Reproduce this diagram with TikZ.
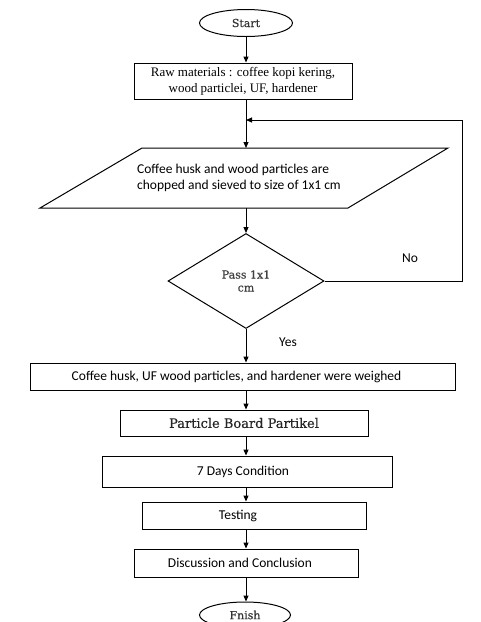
\documentclass[tikz,border=0pt]{standalone}
\usepackage{fontspec}
\setmainfont{Liberation Serif}
\newfontfamily\calib{Carlito}
\newfontfamily\dvs[FakeBold=0.4]{DejaVu Serif}
\usetikzlibrary{shapes.geometric,arrows.meta}
\begin{document}
\begin{tikzpicture}[x=1pt,y=-1pt,
  line width=1pt,
  arr/.style={-{Triangle[length=6pt,width=5pt]}},
  boxA/.style={draw,rectangle,inner sep=0pt,align=center},
  term/.style={draw,ellipse,inner sep=0pt,text=black!80,font=\dvs\fontsize{11}{13}\selectfont},
  sans/.style={font=\calib\fontsize{13.5}{16}\selectfont},
  serif/.style={font=\fontsize{13}{16}\selectfont}]
\useasboundingbox (0,0) rectangle (481,622);
\fill[white] (0,0) rectangle (481,622);
% nodes
\node[term,minimum width=93pt,minimum height=27pt] (start) at (246,23) {Start};
\node[boxA,serif,minimum width=218pt,minimum height=36pt] (raw) at (243,81)
  {Raw materials : coffee kopi kering,\\wood particlei, UF, hardener};
\draw (142,148) -- (448,148) -- (348,208) -- (40,208) -- cycle;
\node[sans,align=left,inner sep=0pt,minimum height=60pt] (para) at (239,178)
  {Coffee husk and wood particles are\\chopped and sieved to size of 1x1 cm};
\node[draw,diamond,inner sep=0pt,minimum width=156pt,minimum height=95pt,
  text=black!75,font=\dvs\fontsize{11}{13}\selectfont,align=center] (dia) at (246,281)
  {Pass 1x1\\cm};
\node[boxA,sans,minimum width=425pt,minimum height=27pt] (weigh) at (242.5,376.5)
  {Coffee husk, UF wood particles, and hardener were weighed\hspace*{12pt}};
\node[boxA,text=black!85,font=\dvs\fontsize{13}{15}\selectfont,minimum width=248pt,minimum height=26pt] (board) at (244,423)
  {Particle Board Partikel};
\node[boxA,sans,minimum width=290pt,minimum height=31pt] (cond) at (247,471.5)
  {7 Days Condition\hspace*{8pt}};
\node[boxA,sans,minimum width=224pt,minimum height=27pt] (test) at (254,515.5)
  {Testing\hspace*{32pt}};
\node[boxA,sans,minimum width=224pt,minimum height=28pt] (disc) at (246,563)
  {Discussion and Conclusion\hspace*{12pt}};
\node[term,minimum width=91pt,minimum height=26pt] (fin) at (245,615) {Fnish};
\coordinate (join) at (246,120);
\coordinate (fbr) at (462,120);
% connectors
\draw[arr] (start.south) -- (start.south |- raw.north);
\draw (raw.south -| join) -- (join);
\draw[arr] (join) -- (246,148);
\draw[arr] (246,208) -- (dia.north);
\draw (dia.east) -| (fbr);
\draw[arr] (fbr) -- (join);
\draw[arr] (dia.south) -- (dia.south |- weigh.north);
\draw[arr] (weigh.south -| dia.south) -- (dia.south |- board.north);
\draw[arr] (board.south -| dia.south) -- (dia.south |- cond.north);
\draw[arr] (cond.south -| dia.south) -- (dia.south |- test.north);
\draw[arr] (test.south -| dia.south) -- (dia.south |- disc.north);
\draw[arr] (disc.south -| dia.south) -- (dia.south |- fin.north);
% labels
\node[sans] (no) at (410,258) {No};
\node[sans] (yes) at (288,342) {Yes};
\end{tikzpicture}
\end{document}
